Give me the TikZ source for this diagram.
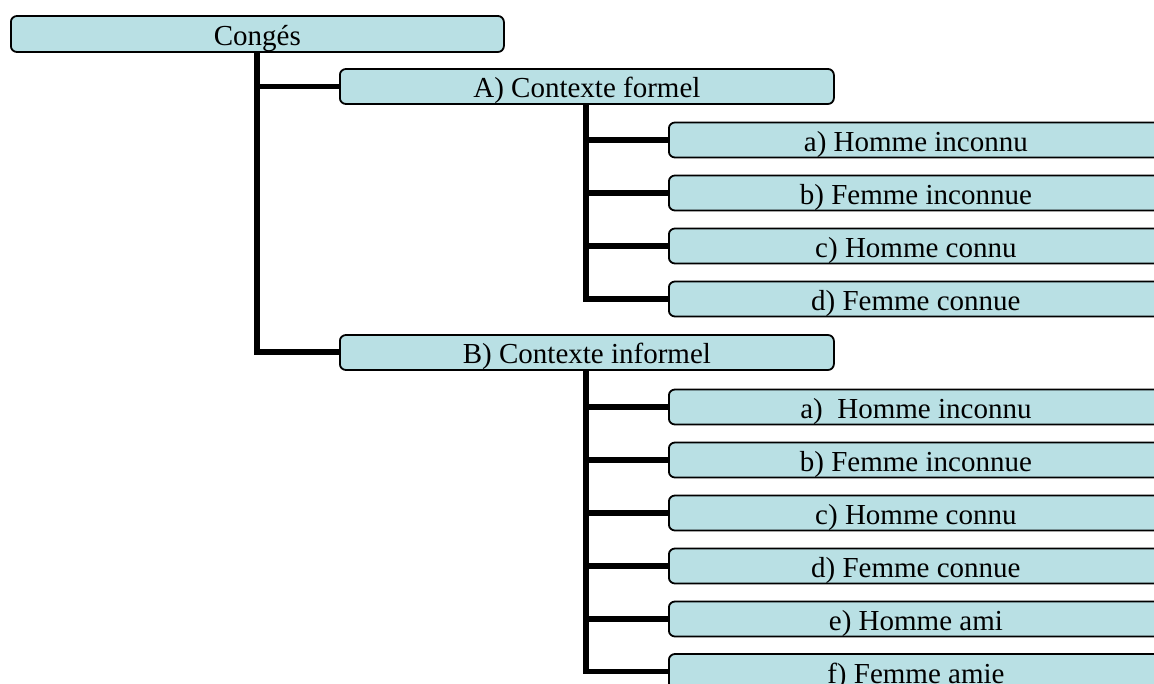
\documentclass[tikz,border=0pt]{standalone}
\usepackage{fontspec}
\setmainfont{Liberation Serif}
\definecolor{boxfill}{RGB}{185,224,228}
\begin{document}
\begin{tikzpicture}[x=1pt,y=-1pt,
  box/.style={draw=black, line width=1.8pt, fill=boxfill, rounded corners=6pt,
    minimum height=35pt, minimum width=494pt, inner sep=0pt, anchor=west,
    text height=23pt, text depth=0pt,
    font=\fontsize{29}{32}\selectfont},
  link/.style={line width=5.5pt, line cap=butt, line join=miter}]
\useasboundingbox (0,0) rectangle (1154,684);
\begin{scope}
\clip (0,0) rectangle (1154,684);
% connectors first, boxes on top
\coordinate (trunk) at (257,52);
\coordinate (ca) at (586,104);
\coordinate (cb) at (586,370);
\draw[link] (trunk) |- (339,86.5);
\draw[link] (trunk) |- (339,352);
\foreach \y in {140,193,246,299} \draw[link] (ca) |- (668,\y);
\foreach \y in {407,460,513,566,619,671.5} \draw[link] (cb) |- (668,\y);

% top level
\node[box, minimum width=493pt, minimum height=36pt] (root) at (10,34) {Congés};
% second level
\node[box] (A) at (339,86.5) {A)\ Contexte formel};
\node[box] (B) at (339,352.5) {B)\ Contexte informel};
% formal context
\node[box] (Aa) at (668,140) {a) Homme inconnu};
\node[box] (Ab) at (668,193) {b) Femme inconnue};
\node[box] (Ac) at (668,246) {c) Homme connu};
\node[box] (Ad) at (668,299) {d) Femme connue};
% informal context
\node[box] (Ba) at (668,407) {a)\ \ Homme inconnu};
\node[box] (Bb) at (668,460) {b) Femme inconnue};
\node[box] (Bc) at (668,513) {c) Homme connu};
\node[box] (Bd) at (668,566) {d) Femme connue};
\node[box] (Be) at (668,619) {e) Homme ami};
\node[box] (Bf) at (668,671.5) {f) Femme amie};
\end{scope}
\end{tikzpicture}
\end{document}
